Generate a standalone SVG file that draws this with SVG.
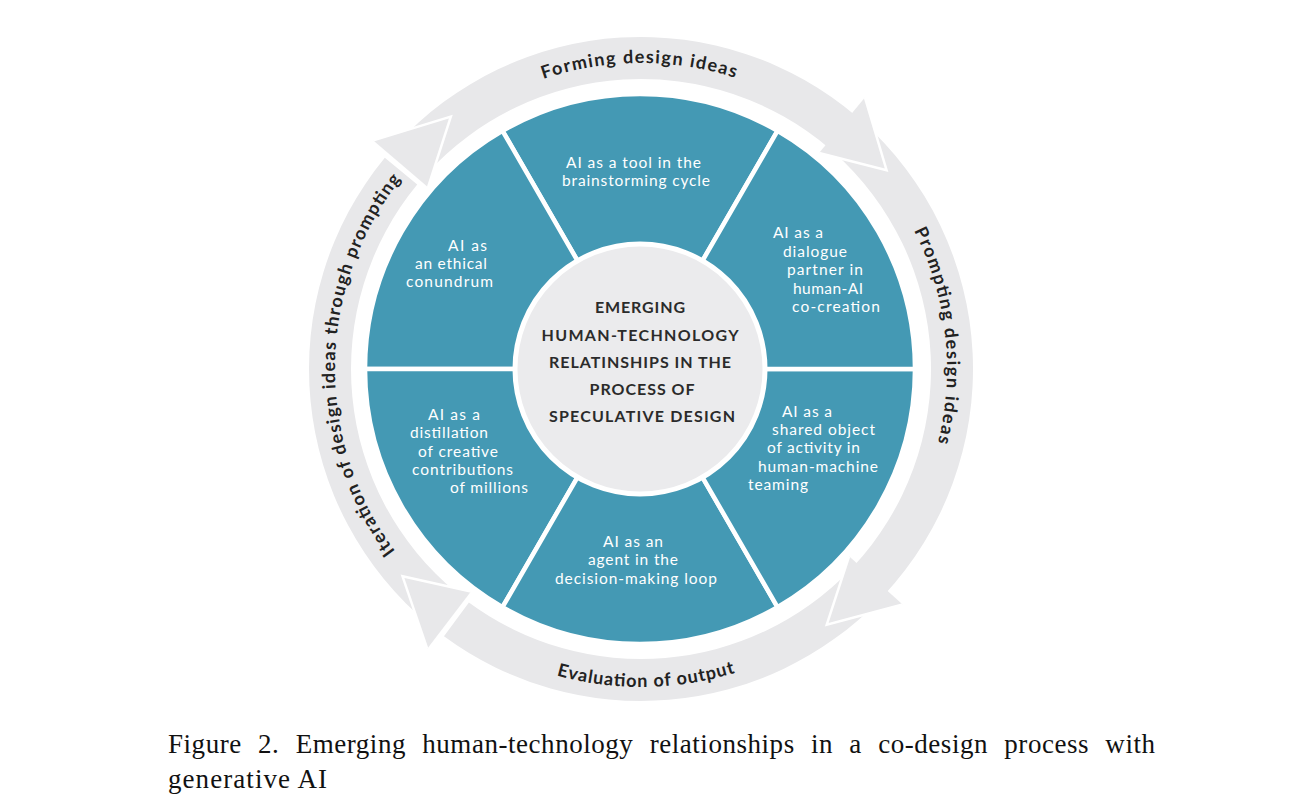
<svg xmlns="http://www.w3.org/2000/svg" width="1300" height="806" viewBox="0 0 1300 806">
<style>
.band{fill:#e8e8ea}
.head{fill:#e8e8ea}
.edge{fill:none;stroke:#ffffff;stroke-width:2.5;stroke-linejoin:miter}
.sector{fill:#4499b4;stroke:#ffffff;stroke-width:4.5;stroke-linejoin:round}
.seg{font-family:Lato,"Open Sans","Liberation Sans",sans-serif;font-size:15.5px;fill:#ffffff}
.ctr{font-family:Lato,"Open Sans","Liberation Sans",sans-serif;font-size:16px;font-weight:700;fill:#2b2b2b;text-anchor:middle}
.ring{font-family:Lato,"Open Sans","Liberation Sans",sans-serif;font-size:18px;font-weight:700;fill:#222222}
.cap{font-family:"Liberation Serif","Times New Roman",serif;font-size:27px;fill:#111111}
</style>
<defs>
<path id="pTop" d="M335,369 A306,306 0 0 1 947,369"/>
<path id="pRight" d="M641,63 A306,306 0 0 1 641,675"/>
<path id="pLeft" d="M641,675 A306,306 0 0 1 641,63"/>
<path id="pBottom" d="M323,369 A318,318 0 0 0 959,369"/>
</defs>
<rect width="1300" height="806" fill="#ffffff"/>

<g id="connectors">
  <g id="bands">
    <path id="band-forming" class="band" d="M396.22,144.70 A332,332 0 0 1 856.62,116.54 L829.34,148.48 A290,290 0 0 0 427.19,173.08 Z"/>
    <path id="band-prompting" class="band" d="M860.99,120.35 A332,332 0 0 1 883.81,595.42 L853.09,566.78 A290,290 0 0 0 833.16,151.80 Z"/>
    <path id="band-evaluation" class="band" d="M879.82,599.63 A332,332 0 0 1 443.98,636.22 L468.91,602.42 A290,290 0 0 0 849.61,570.45 Z"/>
    <path id="band-iteration" class="band" d="M429.82,625.18 A332,332 0 0 1 384.82,157.82 L417.23,184.54 A290,290 0 0 0 456.54,592.77 Z"/>
  </g>
  <g id="heads">
    <polygon class="head" points="864.90,97.39 886.58,170.13 819.10,152.95"/>
    <polyline class="edge" points="864.90,97.39 886.58,170.13 819.10,152.95"/>
    <polygon class="head" points="902.59,604.53 826.74,624.65 849.08,556.36"/>
    <polyline class="edge" points="902.59,604.53 826.74,624.65 849.08,556.36"/>
    <polygon class="head" points="427.20,648.63 402.51,576.31 470.93,591.43"/>
    <polyline class="edge" points="427.20,648.63 402.51,576.31 470.93,591.43"/>
    <polygon class="head" points="373.34,140.39 450.82,116.63 428.09,187.15"/>
    <polyline class="edge" points="373.34,140.39 450.82,116.63 428.09,187.15"/>
  </g>
  <g id="connector-labels">
    <text class="ring"><textPath href="#pTop" startOffset="49.8%" text-anchor="middle" textLength="195" lengthAdjust="spacing">Forming design ideas</textPath></text>
    <text class="ring"><textPath href="#pRight" startOffset="46.4%" text-anchor="middle" textLength="218" lengthAdjust="spacing">Prompting design ideas</textPath></text>
    <text class="ring"><textPath href="#pBottom" startOffset="50.5%" text-anchor="middle" textLength="181" lengthAdjust="spacing">Evaluation of output</textPath></text>
    <text class="ring"><textPath href="#pLeft" startOffset="50.5%" text-anchor="middle" textLength="400" lengthAdjust="spacing">Iteration of design ideas through prompting</textPath></text>
  </g>
</g>

<g id="node-tool">
  <path class="sector" d="M640,369 L777.5,130.84 A275,275 0 0 0 502.5,130.84 Z"/>
  <text class="seg" x="566" y="168" textLength="135" lengthAdjust="spacing">AI as a tool in the</text>
  <text class="seg" x="562" y="186" textLength="148" lengthAdjust="spacing">brainstorming cycle</text>
</g>
<g id="node-ethical">
  <path class="sector" d="M640,369 L502.5,130.84 A275,275 0 0 0 365,369 Z"/>
  <text class="seg" x="448" y="251" textLength="39" lengthAdjust="spacing">AI as</text>
  <text class="seg" x="415" y="269" textLength="72" lengthAdjust="spacing">an ethical</text>
  <text class="seg" x="406" y="287" textLength="87" lengthAdjust="spacing">conundrum</text>
</g>
<g id="node-distillation">
  <path class="sector" d="M640,369 L365,369 A275,275 0 0 0 502.5,607.16 Z"/>
  <text class="seg" x="428" y="420" textLength="52" lengthAdjust="spacing">AI as a</text>
  <text class="seg" x="410" y="438" textLength="78" lengthAdjust="spacing">distillation</text>
  <text class="seg" x="418" y="457" textLength="80" lengthAdjust="spacing">of creative</text>
  <text class="seg" x="412" y="475" textLength="101" lengthAdjust="spacing">contributions</text>
  <text class="seg" x="450" y="493" textLength="78" lengthAdjust="spacing">of millions</text>
</g>
<g id="node-agent">
  <path class="sector" d="M640,369 L502.5,607.16 A275,275 0 0 0 777.5,607.16 Z"/>
  <text class="seg" x="603" y="547" textLength="60" lengthAdjust="spacing">AI as an</text>
  <text class="seg" x="588" y="565" textLength="90" lengthAdjust="spacing">agent in the</text>
  <text class="seg" x="555" y="584" textLength="162" lengthAdjust="spacing">decision-making loop</text>
</g>
<g id="node-shared">
  <path class="sector" d="M640,369 L777.5,607.16 A275,275 0 0 0 915,369 Z"/>
  <text class="seg" x="782" y="417" textLength="50" lengthAdjust="spacing">AI as a</text>
  <text class="seg" x="772" y="435" textLength="103" lengthAdjust="spacing">shared object</text>
  <text class="seg" x="767" y="453" textLength="93" lengthAdjust="spacing">of activity in</text>
  <text class="seg" x="758" y="472" textLength="120" lengthAdjust="spacing">human-machine</text>
  <text class="seg" x="748" y="490" textLength="60" lengthAdjust="spacing">teaming</text>
</g>
<g id="node-dialogue">
  <path class="sector" d="M640,369 L915,369 A275,275 0 0 0 777.5,130.84 Z"/>
  <text class="seg" x="773" y="238" textLength="50" lengthAdjust="spacing">AI as a</text>
  <text class="seg" x="783" y="256.5" textLength="64" lengthAdjust="spacing">dialogue</text>
  <text class="seg" x="787" y="275" textLength="76" lengthAdjust="spacing">partner in</text>
  <text class="seg" x="793" y="293.5" textLength="70" lengthAdjust="spacing">human-AI</text>
  <text class="seg" x="792" y="312" textLength="88" lengthAdjust="spacing">co-creation</text>
</g>
<g id="node-center">
  <circle cx="640" cy="369" r="125" fill="#ebebed" stroke="#ffffff" stroke-width="5"/>
  <text class="ctr" x="640" y="313" textLength="90" lengthAdjust="spacing">EMERGING</text>
  <text class="ctr" x="640" y="341" textLength="197" lengthAdjust="spacing">HUMAN-TECHNOLOGY</text>
  <text class="ctr" x="640" y="368" textLength="182" lengthAdjust="spacing">RELATINSHIPS IN THE</text>
  <text class="ctr" x="642" y="395" textLength="105" lengthAdjust="spacing">PROCESS OF</text>
  <text class="ctr" x="642" y="422" textLength="186" lengthAdjust="spacing">SPECULATIVE DESIGN</text>
</g>

<g id="caption">
  <text class="cap" x="168" y="753" word-spacing="9" textLength="987" lengthAdjust="spacing">Figure 2. Emerging human-technology relationships in a co-design process with</text>
  <text class="cap" x="168" y="788" textLength="159" lengthAdjust="spacing">generative AI</text>
</g>
</svg>
